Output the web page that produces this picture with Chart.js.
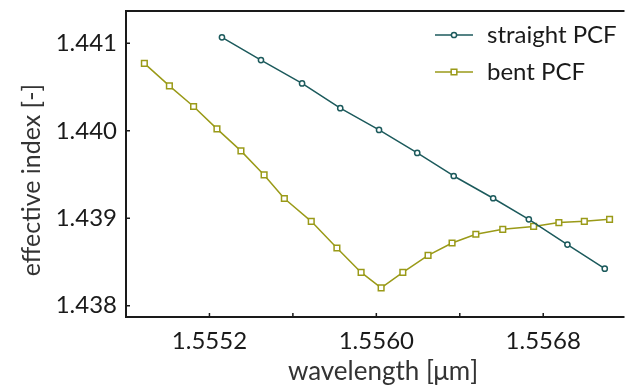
<!DOCTYPE html>
<html><head><meta charset="utf-8">
<script src="https://cdn.jsdelivr.net/npm/chart.js@4/dist/chart.umd.min.js"></script>
<style>html,body{margin:0;padding:0;background:#fff;overflow:hidden}#wrap{width:628px;height:385px;position:relative}</style>
</head><body><div id="wrap"><canvas id="c"></canvas></div>
<script>
// ---- data ----
const seriesNames = ['straight PCF', 'bent PCF'];
const straightWl  = [1.555260, 1.555447, 1.555644, 1.555827, 1.556013, 1.556196, 1.556371, 1.556560, 1.556731, 1.556916, 1.557095];
const straightIdx = [1.441069, 1.440809, 1.440542, 1.440259, 1.440010, 1.439747, 1.439483, 1.439228, 1.438987, 1.438698, 1.438423];
const bentWl  = [1.554888, 1.555008, 1.555124, 1.555236, 1.555351, 1.555462, 1.555559, 1.555688, 1.555811, 1.555927,
                 1.556023, 1.556127, 1.556248, 1.556363, 1.556477, 1.556606, 1.556754, 1.556875, 1.556997, 1.557118];
const bentIdx = [1.440771, 1.440514, 1.440278, 1.440022, 1.439770, 1.439495, 1.439225, 1.438964, 1.438659, 1.438380,
                 1.438204, 1.438380, 1.438575, 1.438716, 1.438816, 1.438873, 1.438906, 1.438950, 1.438964, 1.438987];
const xTicks = [1.5552, 1.5556, 1.5560, 1.5564, 1.5568];
const xTickLabels = ['1.5552', '', '1.5560', '', '1.5568'];
const yTicks = [1.438, 1.439, 1.440, 1.441];
const yTickLabels = ['1.438', '1.439', '1.440', '1.441'];
const xTitle = 'wavelength [μm]';
const yTitle = 'effective index [-]';

const FONT = 'Lato, "Open Sans", sans-serif';
const teal = '#1c5a5c';
const olive = '#9a9a18';

const toXY = (xs, ys) => xs.map((x, i) => ({x, y: ys[i]}));

const framePlugin = {
  id: 'frame',
  afterDatasetsDraw(chart) {
    const {ctx, chartArea: a, scales} = chart;
    ctx.save();
    ctx.strokeStyle = '#1a1a1a';
    ctx.lineWidth = 2;
    ctx.beginPath();
    ctx.moveTo(a.right + 2, a.top); ctx.lineTo(a.left, a.top);
    ctx.lineTo(a.left, a.bottom); ctx.lineTo(a.right + 2, a.bottom);
    ctx.stroke();
    ctx.lineWidth = 1.5;
    ctx.beginPath();
    xTicks.forEach(v => { const p = scales.x.getPixelForValue(v); ctx.moveTo(p, a.bottom); ctx.lineTo(p, a.bottom - 4); });
    yTicks.forEach(v => { const p = scales.y.getPixelForValue(v); ctx.moveTo(a.left, p); ctx.lineTo(a.left + 4, p); });
    ctx.stroke();
    // axis titles
    ctx.fillStyle = '#333';
    ctx.font = '26px ' + FONT;
    ctx.textAlign = 'center'; ctx.textBaseline = 'alphabetic';
    ctx.fillText(xTitle, 383, 380);
    ctx.save();
    ctx.translate(40, 180);
    ctx.rotate(-Math.PI / 2);
    ctx.font = '25px ' + FONT;
    ctx.fillText(yTitle, 0, 0);
    ctx.restore();
    // legend
    const rows = [{ds: chart.data.datasets[0], y: 35}, {ds: chart.data.datasets[1], y: 72}];
    rows.forEach(r => {
      const ds = r.ds;
      ctx.strokeStyle = ds.borderColor; ctx.lineWidth = 1.5;
      ctx.beginPath(); ctx.moveTo(435, r.y); ctx.lineTo(473, r.y); ctx.stroke();
      ctx.fillStyle = '#fff'; ctx.strokeStyle = ds.borderColor; ctx.lineWidth = ds.pointBorderWidth;
      ctx.beginPath();
      if (ds.pointStyle === 'rect') { const s = ds.pointRadius * Math.SQRT1_2; ctx.rect(454 - s, r.y - s, 2 * s, 2 * s); }
      else { ctx.arc(454, r.y, ds.pointRadius, 0, Math.PI * 2); }
      ctx.fill(); ctx.stroke();
      ctx.fillStyle = '#1a1a1a';
      ctx.font = '24px ' + FONT;
      ctx.textBaseline = 'middle'; ctx.textAlign = 'left';
      ctx.fillText(ds.label, 487, r.y);
    });
    ctx.restore();
  }
};

new Chart(document.getElementById('c'), {
  type: 'line',
  data: {
    datasets: [
      {label: seriesNames[0], data: toXY(straightWl, straightIdx), borderColor: teal, backgroundColor: '#fff',
       borderWidth: 1.5, pointStyle: 'circle', pointRadius: 2.6, pointBorderWidth: 1.5, pointBackgroundColor: '#fff', tension: 0},
      {label: seriesNames[1], data: toXY(bentWl, bentIdx), borderColor: olive, backgroundColor: '#fff',
       borderWidth: 1.5, pointStyle: 'rect', pointRadius: 4, pointBorderWidth: 1.5, pointBackgroundColor: '#fff', tension: 0}
    ]
  },
  options: {
    responsive: true, maintainAspectRatio: false, animation: false,
    layout: {padding: {top: 11, right: 0, left: 0, bottom: 0}},
    plugins: {legend: {display: false}, tooltip: {enabled: false}},
    elements: {line: {borderJoinStyle: 'round'}},
    scales: {
      x: {
        type: 'linear', min: 1.5548, max: 1.55718,
        afterBuildTicks: s => { s.ticks = xTicks.map(v => ({value: v})); },
        afterFit: s => { s.height = 68; s.paddingLeft = 0; s.paddingRight = 0; },
        ticks: {callback: (v, i) => xTickLabels[i], color: '#1a1a1a', font: {family: FONT, size: 24}, padding: 10, maxRotation: 0, autoSkip: false},
        grid: {display: false, drawTicks: false},
        border: {display: false},
        title: {display: false, text: xTitle}
      },
      y: {
        type: 'linear', min: 1.43787, max: 1.44137,
        afterBuildTicks: s => { s.ticks = yTicks.map(v => ({value: v})); },
        afterFit: s => { s.width = 126; s.paddingTop = 0; s.paddingBottom = 0; },
        ticks: {callback: (v, i) => yTickLabels[i], color: '#1a1a1a', font: {family: FONT, size: 24}, padding: 9, autoSkip: false},
        grid: {display: false, drawTicks: false},
        border: {display: false},
        title: {display: false, text: yTitle}
      }
    }
  },
  plugins: [framePlugin]
});
</script></body></html>
